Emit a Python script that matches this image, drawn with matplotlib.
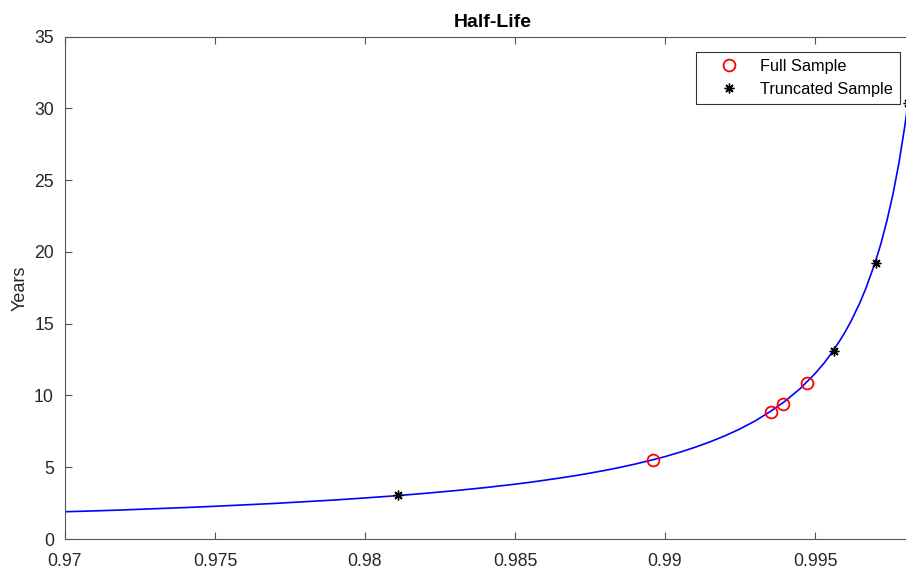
import matplotlib
matplotlib.use("Agg")
import matplotlib.pyplot as plt

plt.rcParams['font.family'] = ['Liberation Sans', 'DejaVu Sans']

# half-life curve (AR coefficient -> years)
curve_x = [0.970, 0.971, 0.972, 0.973, 0.974, 0.975, 0.976, 0.977, 0.978, 0.979,
           0.980, 0.981, 0.982, 0.983, 0.984, 0.985, 0.9855, 0.986, 0.9865, 0.987,
           0.9875, 0.988, 0.9885, 0.989, 0.9895, 0.990, 0.9905, 0.991, 0.9915, 0.992,
           0.9925, 0.993, 0.9935, 0.994, 0.9945, 0.995, 0.9953, 0.9955, 0.9958, 0.996,
           0.9962, 0.9965, 0.9967, 0.997, 0.9972, 0.9974, 0.9976, 0.9978, 0.998, 0.9981,
           0.9982, 0.9983]
curve_y = [1.90, 1.96, 2.03, 2.11, 2.19, 2.28, 2.38, 2.48, 2.60, 2.72,
           2.86, 3.01, 3.18, 3.37, 3.58, 3.82, 3.95, 4.10, 4.25, 4.41,
           4.59, 4.78, 4.99, 5.22, 5.47, 5.74, 6.05, 6.39, 6.77, 7.19,
           7.67, 8.22, 8.87, 9.60, 10.47, 11.52, 12.25, 12.81, 13.73, 14.41,
           15.17, 16.48, 17.49, 19.23, 20.60, 22.20, 24.04, 26.23, 28.85, 30.37,
           32.06, 33.90]

full_x = [0.9896, 0.99353, 0.99393, 0.99473]
full_y = [5.50, 8.84, 9.39, 10.86]

trunc_x = [0.9811, 0.99563, 0.99703, 0.99811]
trunc_y = [3.06, 13.08, 19.2, 30.4]

xticks = [0.97, 0.975, 0.98, 0.985, 0.99, 0.995]
xtick_labels = ['0.97', '0.975', '0.98', '0.985', '0.99', '0.995']
yticks = [0, 5, 10, 15, 20, 25, 30, 35]

fig = plt.figure(figsize=(9.06, 5.69), dpi=100)
# axes runs past the right edge of the picture (the reference is cropped there)
ax = fig.add_axes([65 / 906, 30 / 569, 855 / 906, 502.3 / 569])

ax.plot(curve_x, curve_y, color='#0000ff', lw=1.2, zorder=2)
ax.plot(full_x, full_y, 'o', mfc='none', mec='red', ms=8.5, mew=1.3,
        label='Full Sample', zorder=3)
ax.plot(trunc_x, trunc_y, marker=(8, 2, 0), ls='none', color='black', ms=7, mew=1.0,
        label='Truncated Sample', zorder=3, clip_on=False)

ax.set_xlim(0.97, 0.9985)
ax.set_ylim(0, 35)
ax.set_xticks(xticks)
ax.set_xticklabels(xtick_labels)
ax.set_yticks(yticks)

for s in ax.spines.values():
    s.set_color('#555555')
    s.set_linewidth(0.8)
ax.tick_params(direction='in', length=5, width=0.8, color='#555555',
               labelsize=12.7, labelcolor='#262626', top=True, right=True)
ax.tick_params(axis='y', pad=8)
ax.tick_params(axis='x', pad=10)

ax.set_ylabel('Years', fontsize=13, color='#262626', labelpad=4)
ax.set_title('Half-Life', fontsize=14, fontweight='bold', pad=7)

leg = ax.legend(loc='upper right', bbox_to_anchor=(900 / 906, 1 - 52 / 569),
                bbox_transform=fig.transFigure, fontsize=11.7, frameon=True,
                fancybox=False, borderpad=0.43, handletextpad=0.3, labelspacing=0.5,
                handlelength=3.2, borderaxespad=0)
leg.get_frame().set_edgecolor('black')
leg.get_frame().set_linewidth(0.8)

fig.savefig('out.png', dpi=100)
